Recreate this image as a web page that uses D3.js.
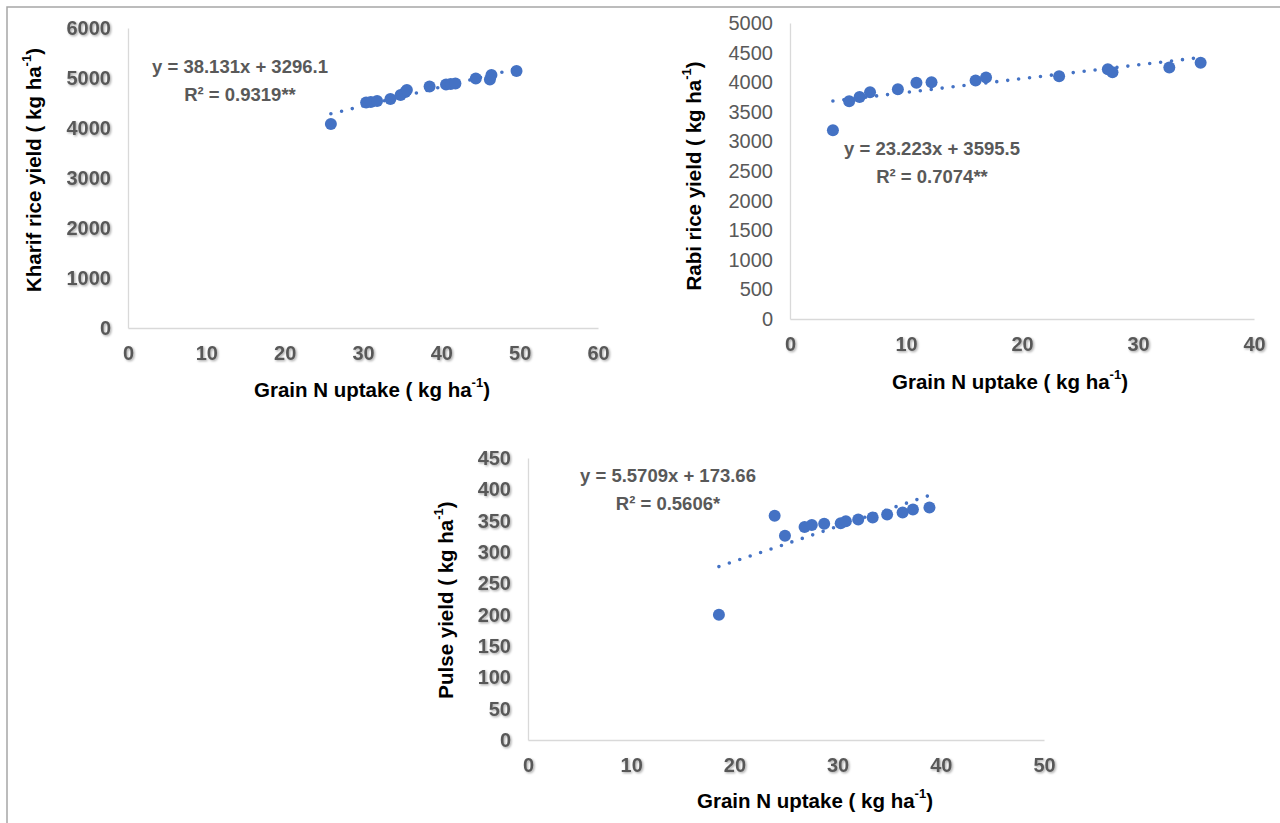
<!DOCTYPE html>
<html>
<head>
<meta charset="utf-8">
<script src="https://cdn.jsdelivr.net/npm/d3@7"></script>
<style>
  body { margin: 0; background: #fff; }
  svg { display: block; font-family: "Liberation Sans", Arial, sans-serif; }
</style>
</head>
<body>
<div id="chart"></div>
<script>
// values
var kharifX = [25.9, 30.4, 31.0, 31.8, 33.5, 34.8, 35.4, 35.6, 38.5, 40.6, 41.2, 41.8, 44.4, 46.2, 46.4, 49.6];
var kharifY = [4080, 4510, 4520, 4540, 4580, 4660, 4720, 4760, 4830, 4870, 4880, 4890, 4990, 4970, 5060, 5140];

var rabiX = [3.7, 5.1, 6.0, 6.9, 9.3, 10.9, 12.2, 16.0, 16.9, 23.2, 27.4, 27.8, 32.7, 35.4];
var rabiY = [3190, 3680, 3750, 3830, 3880, 3990, 4000, 4030, 4080, 4100, 4220, 4170, 4250, 4330];

var pulseX = [18.5, 23.9, 24.9, 26.8, 27.5, 28.7, 30.3, 30.8, 32.0, 33.4, 34.8, 36.3, 37.3, 38.9];
var pulseY = [200, 358, 326, 340, 343, 345, 346, 349, 352, 355, 360, 363, 368, 371];

// trend line coefficients (from the equations printed on the chart)
var slopes = [38.131, 23.223, 5.5709];
var intercepts = [3296.1, 3595.5, 173.66];
var equations = ["y = 38.131x + 3296.1", "y = 23.223x + 3595.5", "y = 5.5709x + 173.66"];
var rsquared = ["R² = 0.9319**", "R² = 0.7074**", "R² = 0.5606*"];

var xTicks = [[0, 10, 20, 30, 40, 50, 60], [0, 10, 20, 30, 40], [0, 10, 20, 30, 40, 50]];
var yTicks = [
	[0, 1000, 2000, 3000, 4000, 5000, 6000],
	[0, 500, 1000, 1500, 2000, 2500, 3000, 3500, 4000, 4500, 5000],
	[0, 50, 100, 150, 200, 250, 300, 350, 400, 450]
];
var yTitles = ["Kharif rice yield ( kg ha", "Rabi rice yield ( kg ha", "Pulse yield ( kg ha"];
var xTitle = "Grain N uptake ( kg ha";

var blue = "#4472C4";
var grey = "#595959";

var svg = d3.select("#chart").append("svg")
	.attr("width", 1280)
	.attr("height", 823);

var defs = svg.append("defs");
defs.append("filter")
	.attr("id", "shadow")
	.attr("x", "-20%").attr("y", "-20%").attr("width", "140%").attr("height", "140%")
	.append("feDropShadow")
		.attr("dx", 1.2).attr("dy", 1.2)
		.attr("stdDeviation", 0.8)
		.attr("flood-color", "#000")
		.attr("flood-opacity", 0.35);

// outer frame (top and left only)
svg.append("path")
	.attr("d", "M7,823V7H1280")
	.attr("fill", "none")
	.attr("stroke", "#a6a6a6")
	.attr("stroke-width", 1.5);

// layout of the three panels
var panels = [
	{ xs: kharifX, ys: kharifY, left: 128, right: 598, top: 28, bottom: 328, xMax: 60, yMax: 6000,
	  eqX: 240, eqY: 68, yTitleX: 36, yTitleY: 170, xTitleX: 372, xTitleY: 392, yShadow: true },
	{ xs: rabiX, ys: rabiY, left: 790, right: 1254, top: 23, bottom: 319, xMax: 40, yMax: 5000,
	  eqX: 932, eqY: 150, yTitleX: 696, yTitleY: 176, xTitleX: 1010, xTitleY: 384, yShadow: false },
	{ xs: pulseX, ys: pulseY, left: 528, right: 1044, top: 458, bottom: 740, xMax: 50, yMax: 450,
	  eqX: 668, eqY: 477, yTitleX: 448, yTitleY: 600, xTitleX: 815, xTitleY: 803, yShadow: true }
];

panels.forEach(function(p, i) {
	var x = d3.scaleLinear().domain([0, p.xMax]).range([p.left, p.right]);
	var y = d3.scaleLinear().domain([0, p.yMax]).range([p.bottom, p.top]);

	var g = svg.append("g");

	// axes
	var xAxis = g.append("g")
		.attr("transform", "translate(0," + p.bottom + ")")
		.call(d3.axisBottom(x).tickValues(xTicks[i]).tickSize(0).tickPadding(18).tickFormat(d3.format("d")));
	xAxis.select(".domain").attr("stroke", "#d9d9d9").attr("stroke-width", 1.3);
	xAxis.selectAll("text")
		.attr("fill", grey)
		.attr("font-size", 20)
		.attr("font-weight", "bold")
		.attr("font-family", "Liberation Sans, Arial, sans-serif")
		.attr("filter", "url(#shadow)");

	var yAxis = g.append("g")
		.attr("transform", "translate(" + p.left + ",0)")
		.call(d3.axisLeft(y).tickValues(yTicks[i]).tickSize(0).tickPadding(17).tickFormat(d3.format("d")));
	yAxis.select(".domain").attr("stroke", "#d9d9d9").attr("stroke-width", 1.3);
	yAxis.selectAll("text")
		.attr("fill", grey)
		.attr("font-size", 20)
		.attr("font-weight", p.yShadow ? "bold" : "normal")
		.attr("font-family", "Liberation Sans, Arial, sans-serif")
		.attr("filter", p.yShadow ? "url(#shadow)" : null);

	// dotted linear trend line
	var x0 = d3.min(p.xs), x1 = d3.max(p.xs);
	g.append("line")
		.attr("x1", x(x0))
		.attr("y1", y(slopes[i] * x0 + intercepts[i]))
		.attr("x2", x(x1))
		.attr("y2", y(slopes[i] * x1 + intercepts[i]))
		.attr("stroke", blue)
		.attr("stroke-width", 3.6)
		.attr("stroke-linecap", "round")
		.attr("stroke-dasharray", "0 11");

	// points
	g.append("g").selectAll("circle")
		.data(p.xs.map(function(d, k) { return [d, p.ys[k]]; }))
		.enter().append("circle")
			.attr("cx", function(d) { return x(d[0]); })
			.attr("cy", function(d) { return y(d[1]); })
			.attr("r", 6)
			.attr("fill", blue);

	// equation + R²
	g.append("text")
		.attr("x", p.eqX).attr("y", p.eqY)
		.attr("text-anchor", "middle")
		.attr("dominant-baseline", "middle")
		.attr("fill", grey)
		.attr("font-size", 18.5)
		.attr("font-weight", "bold")
		.text(equations[i]);
	g.append("text")
		.attr("x", p.eqX).attr("y", p.eqY + 28)
		.attr("text-anchor", "middle")
		.attr("dominant-baseline", "middle")
		.attr("fill", grey)
		.attr("font-size", 18.5)
		.attr("font-weight", "bold")
		.text(rsquared[i]);

	// y title
	var yt = g.append("text")
		.attr("transform", "translate(" + p.yTitleX + "," + p.yTitleY + ") rotate(-90)")
		.attr("text-anchor", "middle")
		.attr("dominant-baseline", "middle")
		.attr("fill", "#000")
		.attr("font-size", 20.5)
		.attr("font-weight", "bold");
	yt.append("tspan").text(yTitles[i]);
	yt.append("tspan").attr("font-size", 13).attr("dy", -8).text("-1");
	yt.append("tspan").attr("dy", 8).text(")");

	// x title
	var xt = g.append("text")
		.attr("x", p.xTitleX).attr("y", p.xTitleY)
		.attr("text-anchor", "middle")
		.attr("dominant-baseline", "middle")
		.attr("fill", "#000")
		.attr("font-size", 20.5)
		.attr("font-weight", "bold");
	xt.append("tspan").text(xTitle);
	xt.append("tspan").attr("font-size", 13).attr("dy", -8).text("-1");
	xt.append("tspan").attr("dy", 8).text(")");
});
</script>
</body>
</html>
